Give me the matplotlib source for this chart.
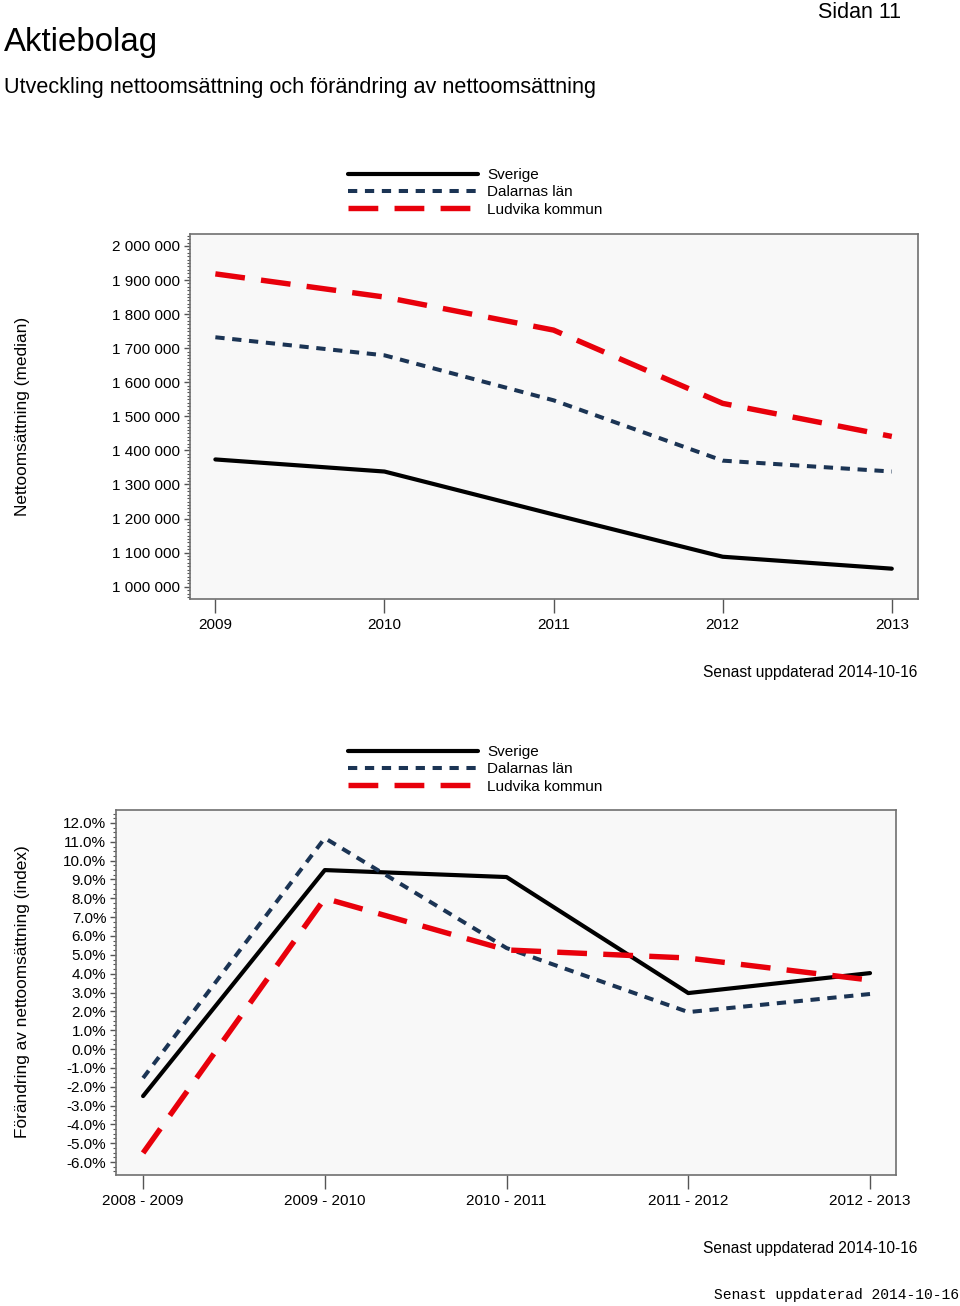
import matplotlib
matplotlib.use("Agg")
import matplotlib.pyplot as plt
from matplotlib.ticker import FuncFormatter, AutoMinorLocator, FixedLocator

plt.rcParams['font.family'] = ['Liberation Sans', 'DejaVu Sans']

# ---- data ----
years = [2009, 2010, 2011, 2012, 2013]
sverige_ns = [1373500, 1338000, 1212000, 1088000, 1053000]
dalarna_ns = [1732000, 1679000, 1547000, 1370000, 1338000]
ludvika_ns = [1918000, 1850000, 1753000, 1538000, 1441000]

periods = ["2008 - 2009", "2009 - 2010", "2010 - 2011", "2011 - 2012", "2012 - 2013"]
sverige_ch = [-2.5, 9.5, 9.13, 2.97, 4.03]
dalarna_ch = [-1.54, 11.2, 5.36, 1.96, 2.92]
ludvika_ch = [-5.52, 8.0, 5.26, 4.83, 3.66]

series_names = ["Sverige", "Dalarnas län", "Ludvika kommun"]
ns_ticks = [1000000 + 100000 * i for i in range(11)]
ch_ticks = [-6 + i for i in range(19)]

W, H = 960, 1306
fig = plt.figure(figsize=(W / 100, H / 100), dpi=100)

black = "#000000"
navy = "#1b3454"
red = "#e8000b"
styles = [
    dict(color=black, lw=3.0, ls='-', solid_capstyle='round'),
    dict(color=navy, lw=2.9, dashes=(2.3, 1.9)),
    dict(color=red, lw=3.9, dashes=(5.5, 3.0)),
]

def fx(px):
    return px / W

def fy(py):
    return 1 - py / H

def style_axes(ax):
    ax.set_facecolor("#f8f8f8")
    for s in ax.spines.values():
        s.set_color("#707070")
        s.set_linewidth(1.2)
    ax.tick_params(axis='both', which='major', colors="#555555", labelcolor='black', labelsize=11)
    ax.tick_params(axis='y', which='major', length=4, width=1, pad=3)
    ax.tick_params(axis='y', which='minor', length=2, width=0.8, colors="#555555")
    ax.tick_params(axis='x', which='major', length=10, width=1, pad=4)

# ---- top chart ----
ax1 = fig.add_axes([fx(190), fy(599), fx(918) - fx(190), fy(234) - fy(599)])
for vals, st, name in zip([sverige_ns, dalarna_ns, ludvika_ns], styles, series_names):
    ax1.plot(years, vals, label=name, **st)
ax1.set_xlim(2008.85, 2013.155)
ax1.set_ylim(964000, 2035000)
ax1.set_xticks(years)
ax1.set_xticklabels([str(y) for y in years])
ax1.yaxis.set_major_locator(FixedLocator(ns_ticks))
ax1.yaxis.set_major_formatter(FuncFormatter(lambda v, p: f"{int(round(v)):,}".replace(",", " ")))
ax1.yaxis.set_minor_locator(AutoMinorLocator(10))
style_axes(ax1)
fig.text(fx(23), fy(416), "Nettoomsättning (median)", rotation=90, ha='center', va='center', fontsize=12.4)

h1, l1 = ax1.get_legend_handles_labels()
fig.legend(h1, l1, loc='upper left', bbox_to_anchor=(fx(342), fy(162)), frameon=False,
           fontsize=11, handlelength=8.5, handletextpad=0.6, labelspacing=0.22, borderaxespad=0)

fig.text(fx(917), fy(672), "Senast uppdaterad 2014-10-16", ha='right', va='center', fontsize=11.2)

# ---- bottom chart ----
ax2 = fig.add_axes([fx(116), fy(1175), fx(896) - fx(116), fy(810) - fy(1175)])
xs = list(range(len(periods)))
for vals, st, name in zip([sverige_ch, dalarna_ch, ludvika_ch], styles, series_names):
    ax2.plot(xs, vals, label=name, **st)
ax2.set_xlim(-0.149, 4.143)
ax2.set_ylim(-6.69, 12.69)
ax2.set_xticks(xs)
ax2.set_xticklabels(periods)
ax2.yaxis.set_major_locator(FixedLocator(ch_ticks))
ax2.yaxis.set_major_formatter(FuncFormatter(lambda v, p: f"{v:.1f}%"))
ax2.yaxis.set_minor_locator(AutoMinorLocator(4))
style_axes(ax2)
fig.text(fx(23), fy(992), "Förändring av nettoomsättning (index)", rotation=90, ha='center', va='center', fontsize=12.4)

h2, l2 = ax2.get_legend_handles_labels()
fig.legend(h2, l2, loc='upper left', bbox_to_anchor=(fx(342), fy(739)), frameon=False,
           fontsize=11, handlelength=8.5, handletextpad=0.6, labelspacing=0.22, borderaxespad=0)

fig.text(fx(917), fy(1248), "Senast uppdaterad 2014-10-16", ha='right', va='center', fontsize=11.2)

# ---- page texts ----
fig.text(fx(4), fy(43), "Aktiebolag", ha='left', va='center', fontsize=23.8)
fig.text(fx(4), fy(88), "Utveckling nettoomsättning och förändring av nettoomsättning", ha='left', va='center', fontsize=15.6)
fig.text(fx(901), fy(12), "Sidan 11", ha='right', va='center', fontsize=15.5)
fig.text(fx(959), fy(1295), "Senast uppdaterad 2014-10-16", ha='right', va='center', fontsize=10.5,
         family=['Liberation Mono', 'DejaVu Sans Mono'])

fig.savefig("out.png", dpi=100)
